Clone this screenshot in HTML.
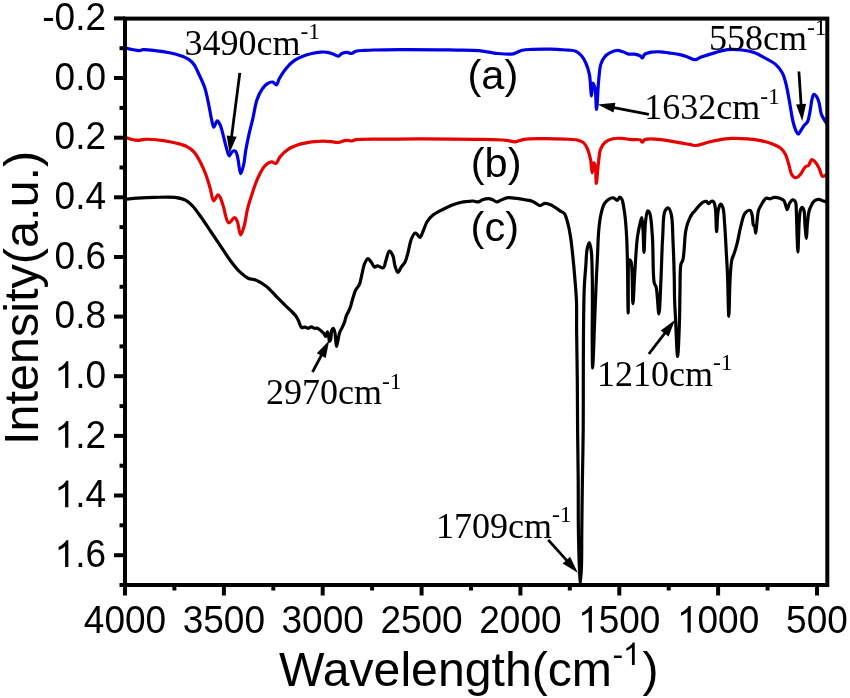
<!DOCTYPE html>
<html><head><meta charset="utf-8"><title>FTIR spectra</title>
<style>html,body{margin:0;padding:0;background:#fff;width:850px;height:698px;overflow:hidden;font-family:"Liberation Sans",sans-serif;}svg{display:block;will-change:transform;}</style>
</head><body>
<svg width="850" height="698" viewBox="0 0 850 698">
<rect width="850" height="698" fill="#fff"/>
<g fill="none" stroke-linejoin="round" stroke-linecap="round">
<path d="M125.3,47.9 C127.53,48.43 129.70,49.06 132.0,49.5 C134.40,49.96 137.38,50.70 139.4,50.6 C140.82,50.53 141.43,49.84 143.0,49.7 C145.87,49.45 151.07,50.13 155.3,50.6 C159.85,51.10 165.06,51.81 169.4,52.7 C173.21,53.48 176.67,54.33 180.0,55.5 C183.12,56.59 186.36,57.73 188.8,59.4 C190.95,60.88 192.49,62.47 194.1,64.7 C196.12,67.50 197.68,71.61 199.4,75.3 C201.22,79.22 203.22,83.14 204.7,87.6 C206.36,92.61 207.45,98.64 208.6,104.0 C209.70,109.10 210.50,114.77 211.5,119.0 C212.25,122.16 212.79,127.09 213.8,127.2 C214.73,127.30 216.05,121.00 217.2,120.9 C218.12,120.82 219.18,122.91 220.0,124.5 C221.22,126.85 221.93,130.60 222.9,134.1 C224.06,138.25 225.21,143.87 226.4,147.8 C227.32,150.85 228.03,155.63 229.2,155.8 C230.15,155.94 231.25,151.96 232.5,151.3 C233.42,150.82 234.70,150.64 235.5,151.2 C236.75,152.07 237.08,155.31 237.8,158.1 C238.86,162.21 239.56,173.52 240.7,173.6 C241.57,173.66 242.81,168.30 243.6,165.0 C244.62,160.75 244.90,155.23 245.8,150.1 C246.77,144.56 248.08,138.30 249.3,132.9 C250.39,128.06 251.53,124.19 252.7,119.2 C254.11,113.21 255.15,104.88 257.1,99.4 C258.59,95.21 260.40,91.61 262.4,88.8 C263.99,86.58 265.69,84.61 267.6,83.5 C269.24,82.55 271.37,81.79 272.9,82.1 C274.30,82.39 275.51,85.15 276.5,84.9 C277.66,84.61 277.95,81.23 279.1,79.1 C280.65,76.23 282.86,72.43 285.3,69.4 C287.83,66.25 290.97,62.85 294.1,60.6 C296.88,58.60 299.91,57.39 302.9,56.2 C305.81,55.04 308.82,54.19 311.8,53.5 C314.72,52.83 317.83,52.28 320.6,52.1 C323.06,51.94 325.45,51.95 327.6,52.3 C329.51,52.61 331.15,53.26 332.9,53.9 C334.69,54.55 336.65,56.38 338.2,56.2 C339.57,56.04 340.41,54.15 341.8,53.5 C343.31,52.80 345.33,52.27 347.0,52.3 C348.56,52.33 350.04,53.66 351.5,53.5 C353.01,53.33 354.12,51.72 355.9,51.2 C358.28,50.50 361.76,50.60 364.7,50.4 C367.63,50.20 369.78,50.11 373.5,50.0 C379.96,49.80 390.40,49.65 400.0,49.6 C411.44,49.54 427.20,49.69 437.6,49.8 C444.97,49.88 449.93,49.96 456.5,50.1 C463.67,50.25 472.78,50.16 479.0,50.7 C483.45,51.09 487.00,51.90 490.4,52.4 C493.16,52.81 494.96,53.25 497.9,53.5 C502.03,53.86 509.59,54.45 512.9,53.9 C514.62,53.62 515.31,53.03 516.7,52.5 C518.41,51.85 520.22,50.81 522.4,50.3 C525.11,49.66 528.12,49.60 531.8,49.4 C536.99,49.11 545.41,49.00 550.6,49.1 C554.27,49.17 556.94,49.43 560.0,49.6 C562.93,49.76 565.87,49.81 568.6,50.1 C571.11,50.36 573.65,50.25 575.8,51.2 C577.95,52.15 579.87,53.92 581.5,55.8 C583.24,57.81 584.56,60.24 585.8,63.0 C587.28,66.29 588.49,69.95 589.4,74.4 C590.62,80.39 590.86,95.90 591.5,95.9 C592.00,95.90 592.08,83.11 592.9,83.0 C593.47,82.93 594.54,86.15 595.1,88.7 C596.14,93.41 595.96,109.50 596.5,109.5 C597.14,109.50 597.84,88.36 598.7,80.1 C599.33,74.04 599.53,68.54 600.8,64.4 C601.71,61.45 602.79,59.18 604.4,57.2 C605.93,55.32 607.98,53.83 610.1,52.7 C612.27,51.55 615.03,50.48 617.3,50.4 C619.30,50.33 621.12,51.19 623.0,51.8 C624.92,52.42 626.75,53.72 628.7,54.1 C630.59,54.47 632.60,53.82 634.5,54.1 C636.43,54.38 638.84,54.97 640.2,55.8 C641.17,56.40 641.64,58.07 642.3,58.0 C643.08,57.92 643.32,55.32 644.5,54.4 C646.07,53.18 649.09,52.64 651.6,52.2 C654.30,51.73 657.34,51.68 660.2,51.8 C663.07,51.92 665.75,52.47 668.8,52.9 C672.29,53.39 676.73,53.86 680.0,54.6 C682.63,55.19 684.60,55.89 687.0,56.7 C689.59,57.57 692.51,59.75 695.0,59.7 C697.21,59.66 698.69,58.02 701.2,57.1 C704.92,55.73 710.74,53.88 715.3,52.6 C719.52,51.41 723.32,50.05 727.6,49.6 C732.13,49.12 737.26,49.46 741.8,50.0 C746.07,50.51 750.23,51.25 754.1,52.6 C757.85,53.91 761.20,56.00 764.7,57.9 C768.27,59.83 772.31,61.53 775.3,64.1 C778.17,66.57 780.63,69.65 782.4,72.9 C784.16,76.12 784.84,79.48 785.9,83.5 C787.24,88.61 788.26,95.13 789.4,101.2 C790.60,107.61 791.56,115.54 792.9,121.0 C793.87,124.97 794.93,128.76 796.1,131.1 C796.80,132.50 797.52,134.21 798.3,134.2 C799.20,134.19 800.25,131.44 801.2,130.0 C802.18,128.51 803.02,126.78 804.1,125.4 C805.13,124.09 806.61,123.49 807.5,121.9 C808.73,119.69 809.10,116.16 809.8,112.8 C810.66,108.69 811.21,102.34 812.1,99.0 C812.62,97.02 812.94,94.64 813.8,94.4 C814.55,94.19 815.90,95.62 816.7,96.7 C817.74,98.09 818.32,100.13 819.0,102.4 C819.94,105.53 820.22,110.79 821.3,113.9 C822.10,116.20 823.21,117.82 824.2,119.6 C825.11,121.23 826.07,122.67 827.0,124.2" stroke="#0000e6" stroke-width="3.2"/>
<path d="M125.2,137.2 C127.47,137.97 129.70,138.98 132.0,139.5 C134.27,140.01 136.77,140.38 138.9,140.3 C140.76,140.23 141.81,139.44 144.1,139.3 C148.42,139.04 157.23,139.86 163.0,140.6 C167.95,141.24 172.49,142.11 176.7,143.2 C180.41,144.16 184.02,145.04 187.0,146.6 C189.66,147.99 191.80,149.49 193.9,151.8 C196.50,154.65 198.78,159.13 200.8,163.0 C202.81,166.86 204.45,170.82 206.0,175.0 C207.63,179.40 208.98,184.35 210.3,188.8 C211.53,192.93 212.15,200.53 213.7,200.8 C214.89,201.01 216.74,194.83 218.0,194.8 C218.93,194.78 219.74,196.59 220.5,198.0 C221.63,200.10 222.31,203.28 223.4,206.6 C224.90,211.15 226.15,222.10 228.6,222.8 C230.27,223.28 233.07,217.54 234.6,217.7 C235.72,217.82 236.42,219.47 237.2,221.1 C238.62,224.06 239.30,234.81 240.6,234.9 C241.65,234.98 243.08,229.72 244.1,226.3 C245.51,221.61 246.08,214.80 247.5,209.1 C248.94,203.33 250.89,197.29 252.7,191.9 C254.34,187.02 255.76,182.46 257.8,178.1 C259.78,173.87 262.00,168.89 264.7,166.1 C266.77,163.96 269.53,161.99 271.6,161.8 C273.16,161.66 274.62,163.92 275.9,163.5 C277.60,162.94 278.32,158.83 280.2,156.6 C282.44,153.94 285.77,150.86 288.8,148.9 C291.53,147.14 294.49,146.11 297.4,145.1 C300.23,144.12 303.13,143.47 306.0,142.9 C308.83,142.34 311.65,141.98 314.5,141.7 C317.35,141.42 320.23,141.20 323.1,141.2 C325.97,141.20 329.05,141.48 331.7,141.7 C333.99,141.89 335.97,142.57 338.1,142.4 C340.30,142.23 342.79,140.91 344.7,140.6 C346.13,140.37 347.34,140.31 348.5,140.4 C349.51,140.48 350.24,141.04 351.3,141.0 C352.71,140.95 353.84,139.95 356.2,139.6 C361.90,138.75 375.87,139.23 386.0,139.1 C396.53,138.96 405.86,138.81 418.2,138.8 C434.87,138.79 460.75,138.96 477.0,139.3 C488.51,139.54 499.57,139.60 506.5,140.3 C510.31,140.69 512.38,141.96 515.3,141.8 C518.25,141.64 520.62,139.85 524.1,139.3 C528.94,138.53 535.48,138.66 541.8,138.6 C549.08,138.53 558.73,138.76 565.3,139.1 C570.06,139.34 574.26,139.24 577.6,140.1 C580.08,140.74 582.15,141.44 583.8,142.9 C585.51,144.41 586.54,146.67 587.6,149.1 C588.91,152.11 589.84,156.03 590.6,159.8 C591.42,163.89 591.65,172.79 592.2,172.8 C592.69,172.81 592.97,162.91 593.7,162.8 C594.12,162.74 594.80,164.39 595.2,165.9 C596.10,169.32 595.80,183.49 596.3,183.5 C596.82,183.51 597.53,170.41 598.3,164.4 C598.99,159.01 599.07,153.07 600.6,149.1 C601.72,146.19 603.17,143.93 605.2,142.2 C607.24,140.46 610.08,139.34 612.8,138.7 C615.66,138.02 618.94,138.25 622.0,138.4 C625.07,138.55 628.13,139.35 631.2,139.6 C634.26,139.85 638.61,138.99 640.4,139.9 C641.41,140.41 641.50,142.14 642.2,142.2 C643.00,142.26 643.62,140.18 645.0,139.6 C647.31,138.63 652.02,138.96 655.7,139.1 C659.64,139.25 663.84,139.97 667.9,140.6 C671.98,141.23 676.24,142.24 680.1,142.9 C683.57,143.49 687.14,143.91 690.0,144.4 C692.19,144.77 693.58,145.58 695.8,145.5 C698.83,145.40 702.86,143.59 706.5,142.7 C710.26,141.78 714.02,140.81 718.0,140.1 C722.23,139.35 726.55,138.63 731.2,138.4 C736.38,138.15 742.53,138.49 747.7,138.9 C752.33,139.27 756.60,139.73 760.8,140.6 C764.82,141.43 768.92,142.55 772.4,143.9 C775.43,145.08 778.38,146.14 780.6,148.0 C782.70,149.76 784.18,152.06 785.5,154.6 C786.99,157.46 787.72,161.13 788.8,164.5 C789.92,167.99 790.40,173.02 792.1,175.2 C793.21,176.63 794.85,177.78 796.2,177.7 C797.62,177.62 799.06,175.86 800.4,174.4 C802.13,172.51 803.61,168.38 805.3,166.9 C806.38,165.95 807.62,166.21 808.6,165.3 C809.91,164.08 810.58,159.84 811.9,159.6 C813.09,159.39 814.81,161.59 816.0,163.0 C817.32,164.56 818.26,166.63 819.3,168.7 C820.47,171.02 821.06,175.68 822.6,176.3 C823.73,176.76 825.33,175.17 826.7,174.6" stroke="#e60000" stroke-width="3.2"/>
<path d="M125.2,199.1 C129.20,198.80 132.84,198.46 137.2,198.2 C142.42,197.88 148.41,197.54 154.4,197.4 C160.96,197.25 169.24,196.63 175.0,197.4 C179.28,197.97 182.94,198.79 186.0,200.4 C188.66,201.80 190.41,203.68 192.6,206.0 C195.34,208.90 198.06,212.99 200.8,216.8 C203.76,220.92 206.70,225.47 209.7,229.9 C212.79,234.46 215.85,238.97 219.1,243.8 C222.63,249.04 226.39,255.25 230.1,260.2 C233.40,264.61 236.77,269.03 240.1,272.2 C242.77,274.73 245.28,276.86 248.1,278.2 C250.67,279.42 253.45,279.06 256.2,280.2 C259.46,281.54 263.02,283.70 266.2,286.2 C269.72,288.96 272.86,292.95 276.2,296.3 C279.53,299.65 282.94,303.06 286.2,306.3 C289.30,309.38 293.19,312.62 295.3,315.3 C296.72,317.11 297.34,318.45 298.3,320.3 C299.42,322.45 300.03,326.66 301.5,327.5 C302.48,328.06 303.89,326.96 305.0,327.1 C306.08,327.24 307.06,328.32 308.1,328.3 C309.16,328.28 310.24,326.89 311.3,326.9 C312.34,326.91 313.33,328.07 314.4,328.3 C315.43,328.52 316.59,327.97 317.6,328.3 C318.71,328.67 319.67,329.77 320.7,330.6 C321.78,331.47 323.07,332.36 323.9,333.4 C324.66,334.35 325.06,336.54 325.6,336.5 C326.24,336.46 326.86,331.80 327.4,331.8 C327.84,331.80 328.29,333.73 328.6,335.0 C329.03,336.73 328.85,341.15 329.4,341.3 C329.71,341.38 330.27,340.52 330.6,339.7 C331.33,337.91 331.00,332.10 331.8,330.2 C332.20,329.25 332.85,328.23 333.3,328.3 C333.92,328.40 334.45,330.73 334.9,332.6 C335.68,335.86 335.84,346.36 336.5,346.4 C336.97,346.43 337.59,341.97 338.1,339.7 C338.62,337.37 338.86,334.68 339.6,332.6 C340.23,330.83 341.22,329.54 342.0,327.9 C342.83,326.15 343.69,324.35 344.4,322.4 C345.17,320.28 345.53,317.84 346.4,315.6 C347.31,313.27 348.76,311.37 349.8,308.7 C351.12,305.30 352.18,300.13 353.3,296.7 C354.16,294.07 354.74,291.87 355.8,289.8 C356.77,287.90 358.35,286.80 359.3,284.7 C360.54,281.95 361.05,277.84 361.9,274.4 C362.75,270.97 363.20,266.92 364.4,264.1 C365.34,261.89 366.67,258.71 367.9,258.6 C368.98,258.50 370.21,260.95 371.3,262.3 C372.48,263.76 373.51,266.80 374.7,267.1 C375.54,267.31 376.24,265.88 377.3,265.8 C378.87,265.69 381.88,268.49 383.3,267.8 C384.87,267.04 384.97,263.16 385.9,260.6 C386.96,257.68 387.92,251.43 389.3,251.2 C390.33,251.03 391.90,253.62 392.8,255.5 C394.05,258.11 394.02,262.88 395.0,265.9 C395.80,268.37 396.80,272.33 397.9,272.4 C398.97,272.47 400.25,268.35 401.5,266.6 C402.63,265.02 404.02,264.12 405.0,262.3 C406.30,259.88 406.93,256.45 407.9,253.0 C409.09,248.76 409.96,242.30 411.5,238.7 C412.54,236.27 413.93,233.25 415.1,233.0 C415.81,232.85 416.47,233.81 417.2,234.4 C418.13,235.16 419.22,237.44 420.1,237.3 C421.21,237.12 421.98,233.71 423.0,231.5 C424.32,228.64 425.39,224.34 427.2,221.5 C428.81,218.97 430.82,216.89 433.0,215.1 C435.13,213.34 437.70,212.13 440.1,210.8 C442.47,209.50 444.88,208.29 447.3,207.2 C449.68,206.13 452.09,205.14 454.5,204.3 C456.86,203.48 459.33,202.67 461.6,202.2 C463.61,201.78 465.47,201.70 467.4,201.5 C469.31,201.30 471.26,200.92 473.1,201.0 C474.85,201.08 476.61,202.12 478.2,201.9 C479.73,201.68 480.91,200.34 482.5,199.8 C484.30,199.19 486.69,198.53 488.5,198.6 C490.03,198.66 491.32,199.26 492.7,199.8 C494.13,200.35 495.48,201.87 496.9,201.9 C498.32,201.93 499.58,200.64 501.2,200.0 C503.24,199.20 505.72,197.89 508.2,197.6 C510.86,197.28 513.87,198.03 516.7,198.4 C519.54,198.77 522.51,199.31 525.2,199.8 C527.65,200.25 530.20,200.44 532.2,201.2 C533.87,201.83 535.14,202.92 536.5,203.7 C537.73,204.41 538.72,205.66 540.0,205.7 C541.48,205.75 543.17,203.49 544.9,203.3 C546.70,203.11 548.77,203.93 550.6,204.7 C552.54,205.52 554.52,207.10 556.2,208.2 C557.60,209.12 558.69,209.92 560.0,210.8 C561.38,211.72 563.11,212.10 564.3,213.6 C566.01,215.76 566.89,219.92 567.9,223.6 C569.09,227.92 569.90,232.85 570.7,238.0 C571.61,243.88 572.21,250.35 572.9,257.0 C573.66,264.34 574.39,272.61 575.0,280.2 C575.58,287.50 576.22,294.04 576.5,301.7 C576.82,310.48 576.51,319.23 576.6,330.0 C576.73,344.31 577.13,363.33 577.3,380.0 C577.47,396.67 577.45,413.33 577.6,430.0 C577.75,446.67 578.07,463.33 578.2,480.0 C578.33,496.67 578.17,514.82 578.4,530.0 C578.59,542.71 578.88,555.18 579.3,565.0 C579.60,572.14 580.03,583.50 580.4,583.5 C580.77,583.50 581.26,572.14 581.5,565.0 C581.83,555.18 581.67,542.70 581.8,530.0 C581.96,514.82 582.17,496.67 582.4,480.0 C582.63,463.33 583.05,446.67 583.2,430.0 C583.35,413.33 583.25,396.67 583.3,380.0 C583.35,363.33 583.32,346.01 583.5,330.0 C583.67,315.20 583.78,299.11 584.3,287.3 C584.67,278.91 585.29,272.57 585.8,265.8 C586.26,259.75 586.27,252.81 587.2,248.6 C587.76,246.04 588.76,242.55 589.4,242.6 C590.16,242.65 590.84,247.87 591.3,251.5 C592.01,257.09 592.01,265.31 592.2,273.0 C592.42,281.88 592.40,292.17 592.4,301.7 C592.40,311.17 592.21,320.86 592.2,330.0 C592.19,338.59 592.21,348.02 592.3,355.0 C592.37,360.04 592.42,368.00 592.6,368.0 C592.78,368.00 593.15,360.04 593.4,355.0 C593.74,348.02 593.98,338.59 594.3,330.0 C594.64,320.86 595.05,310.51 595.4,301.7 C595.71,293.99 595.97,287.26 596.3,280.0 C596.63,272.69 597.02,265.72 597.4,258.0 C597.82,249.41 597.99,238.63 598.7,230.8 C599.24,224.81 599.73,219.80 600.8,215.0 C601.72,210.85 602.73,206.35 604.4,203.6 C605.59,201.64 607.12,200.27 608.7,199.3 C610.11,198.43 611.86,197.62 613.3,197.8 C614.72,197.97 616.23,200.52 617.3,200.3 C618.29,200.10 618.78,197.08 619.6,197.0 C620.33,196.93 621.29,198.13 621.9,199.2 C622.84,200.84 623.09,203.74 623.6,206.5 C624.26,210.03 624.83,214.27 625.3,218.7 C625.86,223.96 626.26,229.76 626.6,236.0 C627.00,243.34 627.17,250.43 627.4,260.0 C627.74,274.21 627.83,313.00 628.2,313.0 C628.57,313.00 627.54,260.78 629.6,260.0 C630.01,259.85 630.59,260.53 631.0,261.5 C632.85,265.90 632.22,303.69 632.9,303.7 C633.47,303.70 633.99,284.31 634.7,273.8 C635.49,262.07 636.21,246.02 637.5,236.6 C638.30,230.75 639.43,225.99 640.3,222.5 C640.82,220.40 641.39,217.46 641.8,217.5 C642.43,217.56 642.66,225.23 643.0,230.0 C643.45,236.38 643.62,252.40 644.0,252.4 C644.44,252.40 644.56,229.59 645.5,222.0 C646.07,217.39 646.58,211.36 647.7,211.0 C648.24,210.83 649.05,211.70 649.6,212.8 C651.27,216.14 651.67,227.33 652.4,236.6 C653.42,249.53 652.60,276.44 654.3,283.2 C654.81,285.21 655.57,285.03 656.1,286.9 C657.47,291.70 658.13,313.92 658.9,313.9 C659.72,313.88 660.22,294.50 660.8,283.2 C661.51,269.28 661.84,249.82 662.7,236.6 C663.34,226.79 662.87,215.20 665.0,211.0 C665.89,209.24 667.43,207.79 668.4,208.0 C669.62,208.26 670.56,211.52 671.3,214.5 C672.72,220.24 672.53,231.45 673.0,240.8 C673.53,251.45 673.93,264.49 674.2,275.0 C674.43,283.98 674.35,292.35 674.6,300.0 C674.81,306.49 675.13,310.87 675.5,318.0 C676.04,328.42 676.93,356.50 677.6,356.5 C678.26,356.50 679.10,331.57 679.5,320.0 C679.86,309.51 679.73,299.64 680.0,290.0 C680.25,281.02 679.83,268.68 681.0,264.0 C681.47,262.14 682.34,261.81 682.8,260.3 C683.44,258.18 683.54,255.59 683.9,252.3 C684.48,247.03 684.70,237.17 685.6,231.7 C686.21,227.99 686.79,225.51 687.9,222.5 C689.06,219.37 691.08,215.28 692.5,213.3 C693.30,212.19 693.93,211.97 694.8,211.0 C696.10,209.55 697.91,206.83 699.4,205.3 C700.56,204.11 701.59,203.07 702.8,202.4 C703.90,201.79 705.31,201.06 706.3,201.3 C707.23,201.53 707.78,203.56 708.6,203.6 C709.47,203.64 710.46,201.51 711.4,201.3 C712.16,201.13 713.09,201.29 713.7,201.9 C714.75,202.96 714.96,205.80 715.4,208.8 C716.20,214.18 716.11,231.69 716.6,231.7 C717.08,231.71 717.16,214.76 718.3,209.9 C718.91,207.32 719.74,204.29 720.6,204.2 C721.30,204.13 722.29,205.94 722.9,207.6 C724.10,210.89 724.09,217.56 724.6,223.7 C725.27,231.87 725.80,243.32 726.3,252.3 C726.75,260.30 727.13,266.31 727.5,275.0 C727.99,286.72 728.33,316.30 728.8,316.3 C729.27,316.30 729.54,285.51 730.3,275.0 C730.77,268.48 731.11,262.85 732.0,259.2 C732.50,257.16 733.15,256.50 733.8,254.6 C734.81,251.65 736.14,247.27 737.2,243.1 C738.44,238.23 739.25,232.20 740.6,227.1 C741.87,222.30 742.78,216.02 745.0,213.3 C746.42,211.56 748.98,209.95 750.2,210.4 C751.42,210.85 751.78,213.87 752.3,216.0 C752.94,218.63 752.64,223.54 753.4,225.1 C753.73,225.77 754.27,225.66 754.6,226.3 C755.26,227.59 755.35,233.11 755.7,233.1 C756.13,233.09 756.45,226.40 756.9,222.8 C757.40,218.81 757.57,213.51 758.6,210.2 C759.33,207.85 760.34,206.40 761.5,204.5 C762.77,202.40 764.29,198.93 766.0,198.2 C767.25,197.67 768.76,198.93 770.1,198.8 C771.46,198.67 772.63,197.55 774.1,197.4 C775.81,197.23 778.12,197.62 779.8,198.2 C781.31,198.72 782.78,199.29 783.8,200.5 C785.03,201.96 785.46,205.12 786.1,206.8 C786.53,207.92 786.77,209.61 787.2,209.6 C787.84,209.59 788.50,205.01 789.5,203.3 C790.31,201.91 791.35,200.08 792.4,199.9 C793.31,199.75 794.60,200.50 795.3,201.6 C796.63,203.70 796.13,209.19 796.4,213.7 C796.75,219.40 796.75,226.68 797.0,233.1 C797.25,239.44 797.62,252.00 797.9,252.0 C798.18,252.00 798.45,238.89 798.7,233.1 C798.91,228.17 798.96,223.51 799.3,219.4 C799.58,216.02 799.68,212.35 800.4,210.2 C800.84,208.90 801.52,207.31 802.1,207.3 C802.69,207.29 803.44,208.78 803.9,210.2 C804.87,213.17 804.57,220.29 805.0,225.1 C805.41,229.64 806.02,238.31 806.4,238.3 C806.78,238.29 806.87,229.53 807.3,225.1 C807.74,220.57 808.19,214.72 809.0,211.4 C809.48,209.42 809.94,208.38 810.7,206.8 C811.60,204.94 812.69,202.25 814.2,201.0 C815.48,199.94 817.27,199.30 818.8,199.3 C820.33,199.30 821.96,200.49 823.4,201.0 C824.67,201.45 825.80,201.80 827.0,202.2" stroke="#000" stroke-width="3.2"/>
</g>
<g stroke="#000" stroke-width="4.0" fill="none">
<rect x="125.0" y="18.6" width="702.3" height="566.4"/>
<line x1="125.0" y1="585.0" x2="125.0" y2="595.5"/>
<line x1="174.4" y1="585.0" x2="174.4" y2="590.5"/>
<line x1="223.9" y1="585.0" x2="223.9" y2="595.5"/>
<line x1="273.3" y1="585.0" x2="273.3" y2="590.5"/>
<line x1="322.7" y1="585.0" x2="322.7" y2="595.5"/>
<line x1="372.1" y1="585.0" x2="372.1" y2="590.5"/>
<line x1="421.6" y1="585.0" x2="421.6" y2="595.5"/>
<line x1="471.0" y1="585.0" x2="471.0" y2="590.5"/>
<line x1="520.4" y1="585.0" x2="520.4" y2="595.5"/>
<line x1="569.8" y1="585.0" x2="569.8" y2="590.5"/>
<line x1="619.3" y1="585.0" x2="619.3" y2="595.5"/>
<line x1="668.7" y1="585.0" x2="668.7" y2="590.5"/>
<line x1="718.1" y1="585.0" x2="718.1" y2="595.5"/>
<line x1="767.6" y1="585.0" x2="767.6" y2="590.5"/>
<line x1="817.0" y1="585.0" x2="817.0" y2="595.5"/>
<line x1="125.0" y1="18.4" x2="114.0" y2="18.4"/>
<line x1="125.0" y1="48.2" x2="119.5" y2="48.2"/>
<line x1="125.0" y1="78.0" x2="114.0" y2="78.0"/>
<line x1="125.0" y1="107.9" x2="119.5" y2="107.9"/>
<line x1="125.0" y1="137.7" x2="114.0" y2="137.7"/>
<line x1="125.0" y1="167.5" x2="119.5" y2="167.5"/>
<line x1="125.0" y1="197.3" x2="114.0" y2="197.3"/>
<line x1="125.0" y1="227.1" x2="119.5" y2="227.1"/>
<line x1="125.0" y1="257.0" x2="114.0" y2="257.0"/>
<line x1="125.0" y1="286.8" x2="119.5" y2="286.8"/>
<line x1="125.0" y1="316.6" x2="114.0" y2="316.6"/>
<line x1="125.0" y1="346.4" x2="119.5" y2="346.4"/>
<line x1="125.0" y1="376.2" x2="114.0" y2="376.2"/>
<line x1="125.0" y1="406.1" x2="119.5" y2="406.1"/>
<line x1="125.0" y1="435.9" x2="114.0" y2="435.9"/>
<line x1="125.0" y1="465.7" x2="119.5" y2="465.7"/>
<line x1="125.0" y1="495.5" x2="114.0" y2="495.5"/>
<line x1="125.0" y1="525.3" x2="119.5" y2="525.3"/>
<line x1="125.0" y1="555.2" x2="114.0" y2="555.2"/>
<line x1="125.0" y1="585.0" x2="119.5" y2="585.0"/>
</g>
<g font-family="Liberation Sans, sans-serif" font-size="37" fill="#000">
<g transform="translate(83.84,632.60) scale(1,1.030)"><text x="0" y="0">4000</text></g>
<g transform="translate(182.70,632.60) scale(1,1.030)"><text x="0" y="0">3500</text></g>
<g transform="translate(281.55,632.60) scale(1,1.030)"><text x="0" y="0">3000</text></g>
<g transform="translate(380.41,632.60) scale(1,1.030)"><text x="0" y="0">2500</text></g>
<g transform="translate(479.26,632.60) scale(1,1.030)"><text x="0" y="0">2000</text></g>
<g transform="translate(578.12,632.60) scale(1,1.030)"><text x="0" y="0"> 500</text><path transform="translate(0.00,0) scale(0.01807,-0.01761)" d="M763,0 L583,0 L583,1147 Q518,1085 412.5,1023 Q307,961 223,930 L223,1104 Q374,1175 487,1276 Q600,1377 647,1472 L763,1472 Z"/></g>
<g transform="translate(676.97,632.60) scale(1,1.030)"><text x="0" y="0"> 000</text><path transform="translate(0.00,0) scale(0.01807,-0.01761)" d="M763,0 L583,0 L583,1147 Q518,1085 412.5,1023 Q307,961 223,930 L223,1104 Q374,1175 487,1276 Q600,1377 647,1472 L763,1472 Z"/></g>
<g transform="translate(786.12,632.60) scale(1,1.030)"><text x="0" y="0">500</text></g>
<g transform="translate(42.24,30.20) scale(1,1.030)"><text x="0" y="0">-0.2</text></g>
<g transform="translate(54.56,89.84) scale(1,1.030)"><text x="0" y="0">0.0</text></g>
<g transform="translate(54.56,149.48) scale(1,1.030)"><text x="0" y="0">0.2</text></g>
<g transform="translate(54.56,209.12) scale(1,1.030)"><text x="0" y="0">0.4</text></g>
<g transform="translate(54.56,268.76) scale(1,1.030)"><text x="0" y="0">0.6</text></g>
<g transform="translate(54.56,328.40) scale(1,1.030)"><text x="0" y="0">0.8</text></g>
<g transform="translate(54.56,388.04) scale(1,1.030)"><text x="0" y="0"> .0</text><path transform="translate(0.00,0) scale(0.01807,-0.01761)" d="M763,0 L583,0 L583,1147 Q518,1085 412.5,1023 Q307,961 223,930 L223,1104 Q374,1175 487,1276 Q600,1377 647,1472 L763,1472 Z"/></g>
<g transform="translate(54.56,447.68) scale(1,1.030)"><text x="0" y="0"> .2</text><path transform="translate(0.00,0) scale(0.01807,-0.01761)" d="M763,0 L583,0 L583,1147 Q518,1085 412.5,1023 Q307,961 223,930 L223,1104 Q374,1175 487,1276 Q600,1377 647,1472 L763,1472 Z"/></g>
<g transform="translate(54.56,507.32) scale(1,1.030)"><text x="0" y="0"> .4</text><path transform="translate(0.00,0) scale(0.01807,-0.01761)" d="M763,0 L583,0 L583,1147 Q518,1085 412.5,1023 Q307,961 223,930 L223,1104 Q374,1175 487,1276 Q600,1377 647,1472 L763,1472 Z"/></g>
<g transform="translate(54.56,566.96) scale(1,1.030)"><text x="0" y="0"> .6</text><path transform="translate(0.00,0) scale(0.01807,-0.01761)" d="M763,0 L583,0 L583,1147 Q518,1085 412.5,1023 Q307,961 223,930 L223,1104 Q374,1175 487,1276 Q600,1377 647,1472 L763,1472 Z"/></g>
</g>
<text x="279" y="685.7" font-family="Liberation Sans, sans-serif" font-size="48.2">Wavelength(cm<tspan font-size="32" dy="-20.3" dx="0.5">-</tspan><tspan font-size="32" dx="-0.3"> </tspan><tspan dy="20.3" dx="2.0">)</tspan></text>
<path transform="translate(622.83,665) scale(0.01562,-0.01523)" d="M763,0 L583,0 L583,1147 Q518,1085 412.5,1023 Q307,961 223,930 L223,1104 Q374,1175 487,1276 Q600,1377 647,1472 L763,1472 Z"/>
<text transform="translate(37.6,445.1) rotate(-90)" x="0" y="0" font-family="Liberation Sans, sans-serif" font-size="48.6">Intensity(a.u.)</text>
<g font-family="Liberation Sans, sans-serif" font-size="41.5">
<text x="467.5" y="88.7">(a)</text>
<text x="470.8" y="177.4">(b)</text>
<text x="470.6" y="241.2">(c)</text>
</g>
<text x="184.5" y="54.9" font-family="Liberation Serif, serif" font-size="36">3490cm<tspan font-size="23.5" dy="-15.5">-1</tspan></text>
<text x="709.0" y="50.3" font-family="Liberation Serif, serif" font-size="36">558cm<tspan font-size="23.5" dy="-15.5">-1</tspan></text>
<text x="644.3" y="119.0" font-family="Liberation Serif, serif" font-size="36">1632cm<tspan font-size="23.5" dy="-15.5">-1</tspan></text>
<text x="266.0" y="404.2" font-family="Liberation Serif, serif" font-size="36">2970cm<tspan font-size="23.5" dy="-15.5">-1</tspan></text>
<text x="597.0" y="385.8" font-family="Liberation Serif, serif" font-size="36">1210cm<tspan font-size="23.5" dy="-15.5">-1</tspan></text>
<text x="436.0" y="537.9" font-family="Liberation Serif, serif" font-size="36">1709cm<tspan font-size="23.5" dy="-15.5">-1</tspan></text>
<line x1="239.8" y1="72.9" x2="231.4" y2="138.1" stroke="#000" stroke-width="2.8"/><polygon points="229.5,153.0 226.7,135.5 236.6,136.8" fill="#000"/>
<line x1="648.9" y1="114.3" x2="612.5" y2="107.3" stroke="#000" stroke-width="2.8"/><polygon points="597.8,104.4 615.4,102.7 613.5,112.5" fill="#000"/>
<line x1="798.9" y1="71.5" x2="801.2" y2="106.0" stroke="#000" stroke-width="2.8"/><polygon points="802.2,121.0 796.1,104.4 806.1,103.7" fill="#000"/>
<line x1="312.5" y1="372.0" x2="322.2" y2="353.8" stroke="#000" stroke-width="2.8"/><polygon points="329.2,340.5 325.7,357.9 316.8,353.2" fill="#000"/>
<line x1="648.8" y1="354.0" x2="665.8" y2="331.9" stroke="#000" stroke-width="2.8"/><polygon points="675.0,320.0 668.6,336.5 660.7,330.4" fill="#000"/>
<line x1="548.2" y1="539.9" x2="567.8" y2="561.6" stroke="#000" stroke-width="2.8"/><polygon points="577.8,572.8 562.7,563.5 570.1,556.8" fill="#000"/>
</svg>
</body></html>
